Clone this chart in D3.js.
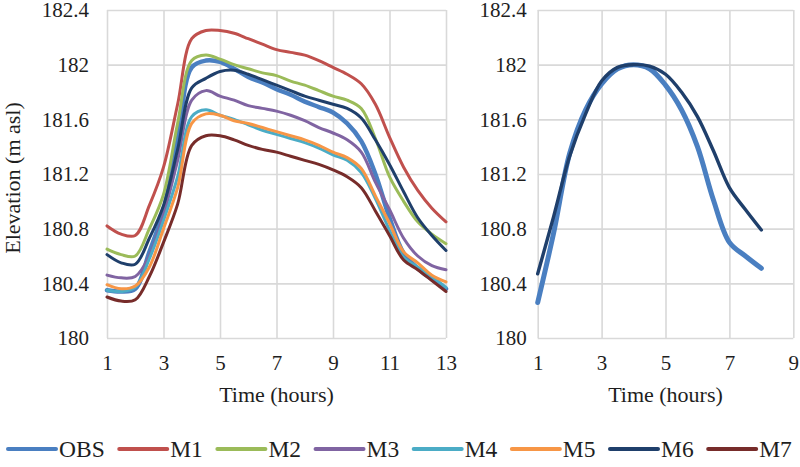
<!DOCTYPE html>
<html>
<head>
<meta charset="utf-8">
<script src="https://cdn.jsdelivr.net/npm/d3@7"></script>
<style>
  body { margin: 0; background: #fff; }
  svg text { font-family: "Liberation Serif", Tinos, "Times New Roman", Times, "DejaVu Serif", serif; fill: #1e1e1e; }
</style>
</head>
<body>
<div id="my_dataviz"></div>
<script>
// left panel: half-hourly elevations, hours 1..13
var hours = [1, 1.5, 2, 2.5, 3, 3.5, 4, 4.5, 5, 5.5, 6, 6.5, 7, 7.5, 8, 8.5, 9, 9.5, 10, 10.5, 11, 11.5, 12, 12.5, 13];
var obs = [180.35, 180.34, 180.36, 180.63, 180.93, 181.45, 181.98, 182.03, 182.02, 181.97, 181.91, 181.87, 181.82, 181.78, 181.73, 181.69, 181.65, 181.57, 181.44, 181.2, 180.88, 180.62, 180.51, 180.43, 180.36];
var m1 = [180.82, 180.76, 180.75, 180.97, 181.25, 181.71, 182.19, 182.25, 182.25, 182.23, 182.19, 182.15, 182.11, 182.09, 182.07, 182.03, 181.98, 181.93, 181.86, 181.71, 181.47, 181.25, 181.08, 180.95, 180.85];
var m2 = [180.65, 180.61, 180.6, 180.8, 181.05, 181.57, 182.03, 182.07, 182.04, 182.0, 181.97, 181.94, 181.92, 181.88, 181.85, 181.81, 181.77, 181.74, 181.68, 181.46, 181.18, 181.0, 180.85, 180.76, 180.69];
var m3 = [180.46, 180.44, 180.45, 180.6, 180.9, 181.3, 181.74, 181.81, 181.77, 181.74, 181.7, 181.68, 181.66, 181.63, 181.59, 181.54, 181.5, 181.45, 181.36, 181.14, 180.94, 180.73, 180.6, 180.53, 180.5];
var m4 = [180.35, 180.34, 180.37, 180.58, 180.86, 181.18, 181.62, 181.67, 181.63, 181.6, 181.56, 181.52, 181.49, 181.46, 181.43, 181.39, 181.34, 181.3, 181.21, 181.02, 180.79, 180.59, 180.52, 180.45, 180.37];
var m5 = [180.39, 180.36, 180.38, 180.52, 180.8, 181.1, 181.57, 181.64, 181.63, 181.59, 181.57, 181.54, 181.51, 181.48, 181.45, 181.41, 181.36, 181.32, 181.24, 181.04, 180.84, 180.63, 180.55, 180.46, 180.41];
var m6 = [180.61, 180.55, 180.54, 180.73, 180.97, 181.38, 181.83, 181.9, 181.95, 181.96, 181.93, 181.89, 181.85, 181.81, 181.77, 181.74, 181.71, 181.68, 181.61, 181.45, 181.27, 181.07, 180.88, 180.75, 180.64];
var m7 = [180.3, 180.27, 180.28, 180.45, 180.7, 180.98, 181.41, 181.48, 181.48, 181.45, 181.41, 181.38, 181.36, 181.33, 181.3, 181.27, 181.23, 181.18, 181.1, 180.93, 180.75, 180.57, 180.5, 180.42, 180.34];

// right panel: hours 1..8
var hoursR = [1, 1.5, 2, 2.5, 3, 3.5, 4, 4.5, 5, 5.5, 6, 6.5, 7, 7.5, 8];
var obsR = [180.26, 180.77, 181.35, 181.67, 181.86, 181.97, 182.0, 181.97, 181.85, 181.67, 181.4, 181.01, 180.7, 180.6, 180.51];
var m6R = [180.47, 180.89, 181.33, 181.64, 181.88, 181.98, 182.0, 181.99, 181.93, 181.8, 181.62, 181.37, 181.1, 180.94, 180.79];

var yTicks = [180, 180.4, 180.8, 181.2, 181.6, 182, 182.4];
var xTicksL = [1, 3, 5, 7, 9, 11, 13];
var xTicksR = [1, 3, 5, 7, 9];
var names = ["OBS", "M1", "M2", "M3", "M4", "M5", "M6", "M7"];
var colors = ["#4a7fc1", "#c0504d", "#9bbb59", "#8064a2", "#4bacc6", "#f79646", "#1f3f6b", "#772c2a"];

var serif = "'Liberation Serif', Tinos, 'Times New Roman', Times, 'DejaVu Serif', serif";

var svg = d3.select("#my_dataviz")
  .append("svg")
  .attr("width", 800)
  .attr("height", 467)
  .attr("font-family", serif);

var y = d3.scaleLinear().domain([180, 182.4]).range([338, 10]);
var xL = d3.scaleLinear().domain([1, 13]).range([107, 446]);
var xR = d3.scaleLinear().domain([1, 9]).range([537.7, 793.3]);

function styleAxis(a) {
  a.attr("font-family", serif).attr("font-size", 21);
  a.select(".domain").remove();
  a.selectAll(".tick line").attr("stroke", "#d9d9d9").attr("stroke-width", 1.6);
  a.selectAll(".tick text").attr("fill", "#1e1e1e");
}

function panel(x, xTicks, yPad) {
  var g = svg.append("g");
  g.append("g")
    .attr("transform", "translate(" + x.range()[0] + ",0)")
    .call(d3.axisLeft(y).tickValues(yTicks).tickFormat(d3.format("")).tickSize(-(x.range()[1] - x.range()[0])).tickPadding(yPad))
    .call(styleAxis);
  g.append("g")
    .attr("transform", "translate(0," + y(180) + ")")
    .call(d3.axisBottom(x).tickValues(xTicks).tickSize(-(y(180) - y(182.4))).tickPadding(17))
    .call(styleAxis);
  g.append("text")
    .attr("x", (x.range()[0] + x.range()[1]) / 2)
    .attr("y", 402)
    .attr("text-anchor", "middle")
    .style("font-size", "22px")
    .text("Time (hours)");
  return g;
}

var left = panel(xL, xTicksL, 18);
var right = panel(xR, xTicksR, 11);

var leftSeries = [obs, m1, m2, m3, m4, m5, m6, m7];

var lineL = d3.line()
  .x(function(d, i) { return xL(hours[i]); })
  .y(function(d) { return y(d); })
  .curve(d3.curveCatmullRom.alpha(0.5));

leftSeries.forEach(function(s, k) {
  left.append("path")
    .datum(s)
    .attr("d", lineL)
    .attr("fill", "none")
    .attr("stroke", colors[k])
    .attr("stroke-width", k == 0 ? 4.5 : 3)
    .attr("stroke-linecap", "round")
    .attr("stroke-linejoin", "round");
});

var lineR = d3.line()
  .x(function(d, i) { return xR(hoursR[i]); })
  .y(function(d) { return y(d); })
  .curve(d3.curveCatmullRom.alpha(0.5));

right.append("path")
  .datum(obsR)
  .attr("d", lineR)
  .attr("fill", "none")
  .attr("stroke", colors[0])
  .attr("stroke-width", 5)
  .attr("stroke-linecap", "round");

right.append("path")
  .datum(m6R)
  .attr("d", lineR)
  .attr("fill", "none")
  .attr("stroke", colors[6])
  .attr("stroke-width", 3.4)
  .attr("stroke-linecap", "round");

// y axis title
svg.append("text")
  .attr("transform", "translate(20,178) rotate(-90)")
  .attr("text-anchor", "middle")
  .style("font-size", "22px")
  .text("Elevation (m asl)");

// legend
var legend = svg.append("g");
var lx = 8;
names.forEach(function(n, k) {
  legend.append("line")
    .attr("x1", lx).attr("x2", lx + 48)
    .attr("y1", 449).attr("y2", 449)
    .attr("stroke", colors[k])
    .attr("stroke-width", 4)
    .attr("stroke-linecap", "round");
  var t = legend.append("text")
    .attr("x", lx + 51)
    .attr("y", 457)
    .style("font-size", "23.5px")
    .text(n);
  lx += 51 + t.node().getComputedTextLength() + 14.5;
});
</script>
</body>
</html>
